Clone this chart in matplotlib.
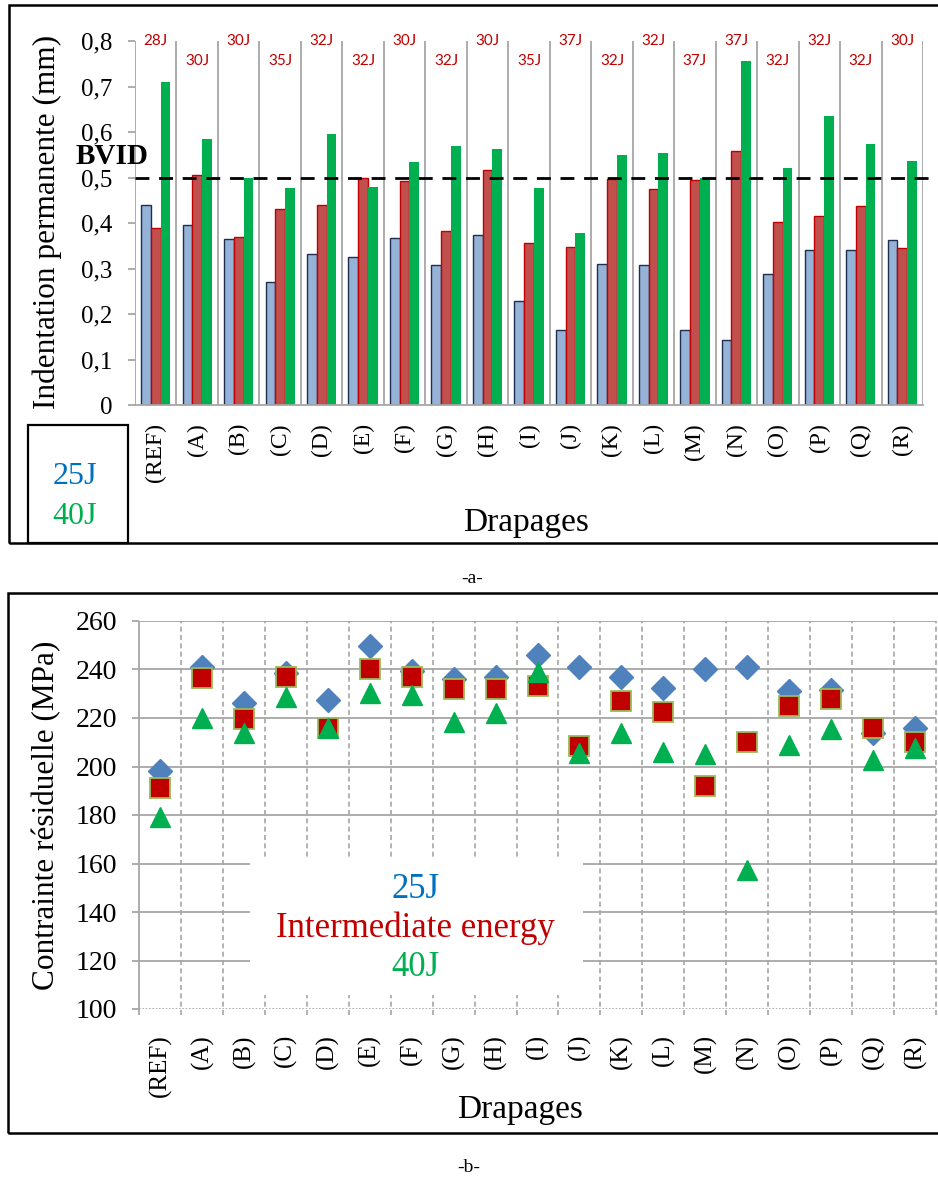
import matplotlib
matplotlib.use("Agg")
import matplotlib.pyplot as plt
from matplotlib.patches import Rectangle
import numpy as np

drapages = ["(REF)", "(A)", "(B)", "(C)", "(D)", "(E)", "(F)", "(G)", "(H)", "(I)",
            "(J)", "(K)", "(L)", "(M)", "(N)", "(O)", "(P)", "(Q)", "(R)"]

# -a- indentation permanente (mm)
indent_25 = [0.44, 0.395, 0.365, 0.27, 0.332, 0.325, 0.368, 0.308, 0.373, 0.228,
             0.165, 0.31, 0.308, 0.165, 0.142, 0.288, 0.34, 0.34, 0.362]
indent_mid = [0.39, 0.505, 0.37, 0.43, 0.44, 0.50, 0.492, 0.383, 0.517, 0.355,
              0.348, 0.497, 0.475, 0.494, 0.558, 0.403, 0.415, 0.437, 0.346]
indent_40 = [0.71, 0.585, 0.50, 0.478, 0.595, 0.48, 0.535, 0.57, 0.562, 0.478,
             0.378, 0.55, 0.553, 0.50, 0.755, 0.52, 0.635, 0.573, 0.537]
energie_mid = ["28J", "30J", "30J", "35J", "32J", "32J", "30J", "32J", "30J", "35J",
               "37J", "32J", "32J", "37J", "37J", "32J", "32J", "32J", "30J"]
bvid = 0.5
ticks_a = [0, 0.1, 0.2, 0.3, 0.4, 0.5, 0.6, 0.7, 0.8]
ticks_a_labels = ["0", "0,1", "0,2", "0,3", "0,4", "0,5", "0,6", "0,7", "0,8"]

# -b- contrainte residuelle (MPa)
stress_25 = [198, 241, 226, 238.5, 227.5, 249.5, 239.5, 236, 237, 246,
             241, 237, 232.5, 240, 241, 231, 231.5, 214, 216]
stress_mid = [191, 236.5, 219.5, 237, 216, 240, 237, 232, 232, 233,
              208.5, 227, 222.5, 192, 210, 225, 228, 216, 210]
stress_40 = [179, 220, 214, 228.5, 216, 230.5, 229.5, 218.5, 222, 239,
             205.5, 214, 206, 205, 157.5, 209, 215.5, 202.5, 207.5]
ticks_b = [100, 120, 140, 160, 180, 200, 220, 240, 260]

W, H = 938, 1178
plt.rcParams["font.family"] = ["Liberation Serif", "DejaVu Serif"]
fig = plt.figure(figsize=(W / 100, H / 100), dpi=100)


def fx(px):
    return px / W


def fy(py):
    return 1 - py / H


def box(x0, y0, x1, y1, **kw):
    r = Rectangle((fx(x0), fy(y1)), fx(x1) - fx(x0), fy(y0) - fy(y1),
                  transform=fig.transFigure, **kw)
    fig.patches.append(r)


grey = "#a6a6a6"
x = np.arange(len(drapages))
bounds = np.arange(len(drapages) + 1) - 0.5

# ---------------- panel a ----------------
ax1 = fig.add_axes([fx(135), fy(405), fx(923) - fx(135), fy(41) - fy(405)])
w = 0.235
ax1.vlines(bounds, 0, 0.8, color=grey, lw=1.3, zorder=0)
ax1.bar(x - w, indent_25, w, color="#95b3d7", edgecolor="#1f2d4f", lw=1, zorder=2)
ax1.bar(x, indent_mid, w, color="#c0504d", edgecolor="#c00000", lw=1, zorder=2)
ax1.bar(x + w, indent_40, w, color="#00b050", lw=0, zorder=2)
ax1.set_xlim(-0.5, len(drapages) - 0.5)
ax1.set_ylim(0, 0.8)
for s in ["top", "right", "left"]:
    ax1.spines[s].set_visible(False)
ax1.spines["bottom"].set_color(grey)
ax1.spines["bottom"].set_linewidth(1.3)
ax1.set_yticks(ticks_a, ticks_a_labels, fontsize=18)
ax1.tick_params(axis="y", length=5, color=grey, width=1.3, pad=11)
ax1.set_xticks(x, drapages, rotation=90, fontsize=17)
ax1.tick_params(axis="x", length=0, pad=13)

ax1.plot([0, 1.011], [bvid, bvid], transform=ax1.get_yaxis_transform(),
         color="black", ls=(0, (5, 3.5)), lw=2, clip_on=False, zorder=3)

for i, lab in enumerate(energie_mid):
    yl = 0.80 if i % 2 == 0 else 0.755
    ax1.text(i, yl, lab, color="#c00000", fontsize=11, ha="center", va="center",
             family=["Lato", "DejaVu Sans"], clip_on=False)

fig.text(fx(112), fy(157), "BVID", fontsize=21, fontweight="bold", ha="center", va="center")
fig.text(fx(47), fy(222), "Indentation permanente (mm)", rotation=90, fontsize=22.5,
         ha="center", va="center")
fig.text(fx(526), fy(523), "Drapages", fontsize=24, ha="center", va="center")

box(28, 425, 128, 543, fill=False, ec="black", lw=1.6)
fig.text(fx(75), fy(477), "25J", color="#0070c0", fontsize=23, ha="center", va="center")
fig.text(fx(75), fy(516), "40J", color="#00b050", fontsize=23, ha="center", va="center")

box(9, 5, 945, 543, fill=False, ec="black", lw=1.8)
fig.text(fx(472), fy(578), "-a-", fontsize=14, ha="center", va="center")

# ---------------- panel b ----------------
ax2 = fig.add_axes([fx(139), fy(1009), fx(936) - fx(139), fy(621) - fy(1009)])
ax2.hlines(ticks_b[1:], -0.5, len(drapages) - 0.5, color=grey, lw=1.3, zorder=0)
ax2.hlines(ticks_b[0], -0.5, len(drapages) - 0.5, color=grey, lw=1.2, ls=(0, (1, 1)), zorder=0)
ax2.vlines(bounds[1:], 97.5, 260, color=grey, lw=1.2, ls=(0, (3, 2)), zorder=0, clip_on=False)
ax2.vlines(bounds[0], 97.5, 260, color=grey, lw=1.3, zorder=0, clip_on=False)
ax2.plot(x, stress_25, "D", color="#4f81bd", ms=12.5, mec="#4f81bd", zorder=3)
ax2.plot(x, stress_mid, "s", color="#c00000", ms=14.5, mec="#9bbb59", mew=1.3, zorder=4)
ax2.plot(x, stress_40, "^", color="#00b050", ms=14.5, zorder=5)
ax2.set_xlim(-0.5, len(drapages) - 0.5)
ax2.set_ylim(100, 260)
for s in ax2.spines.values():
    s.set_visible(False)
ax2.set_yticks(ticks_b, [str(t) for t in ticks_b], fontsize=20)
ax2.tick_params(axis="y", length=5, color=grey, width=1.3, pad=11)
ax2.set_xticks(x, drapages, rotation=90, fontsize=18)
ax2.tick_params(axis="x", length=0, pad=18)

box(250, 857, 583, 995, facecolor="white", ec="none", zorder=1)
fig.text(fx(415), fy(890), "25J", color="#0070c0", fontsize=25, ha="center", va="center")
fig.text(fx(415), fy(928), "Intermediate energy", color="#c00000", fontsize=25,
         ha="center", va="center")
fig.text(fx(415), fy(967), "40J", color="#00b050", fontsize=25, ha="center", va="center")

fig.text(fx(47), fy(815), "Contrainte résiduelle (MPa)", rotation=90, fontsize=22.5,
         ha="center", va="center")
fig.text(fx(520), fy(1110), "Drapages", fontsize=24, ha="center", va="center")

box(8, 593, 945, 1133, fill=False, ec="black", lw=1.8)
fig.text(fx(469), fy(1167), "-b-", fontsize=14, ha="center", va="center")

fig.savefig("out.png", dpi=100)
